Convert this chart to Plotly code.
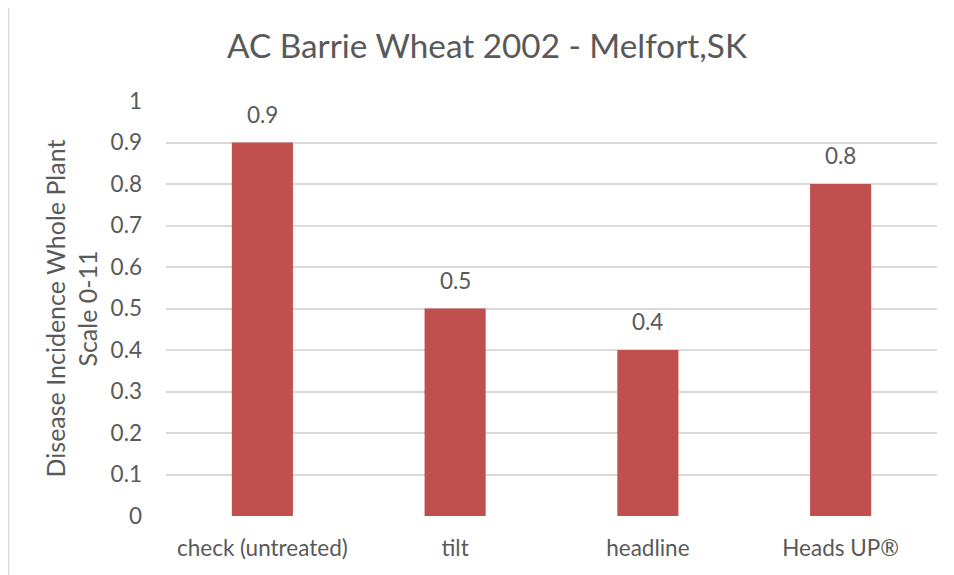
import plotly.graph_objects as go

categories = ["check (untreated)", "tilt", "headline", "Heads UP®"]
values = [0.9, 0.5, 0.4, 0.8]
value_labels = ["0.9", "0.5", "0.4", "0.8"]
y_ticks = [0, 0.1, 0.2, 0.3, 0.4, 0.5, 0.6, 0.7, 0.8, 0.9, 1]
y_tick_labels = ["0", "0.1", "0.2", "0.3", "0.4", "0.5", "0.6", "0.7", "0.8", "0.9", "1"]

FONT = "Lato"
GREY = "#595959"

fig = go.Figure(
    go.Bar(
        x=categories,
        y=values,
        marker=dict(color="#C0504D", line=dict(width=0)),
        width=0.317,
        hoverinfo="skip",
    )
)

for c, v, t in zip(categories, values, value_labels):
    fig.add_annotation(x=c, y=v, text=t, showarrow=False, xref="x", yref="y",
                       yanchor="bottom", yshift=13,
                       font=dict(family=FONT, size=22.5, color=GREY))

# page has an 8px body margin, so the figure starts at page (8, 8)
OFF = 8
W, H = 954 - OFF, 575 - OFF
L, T = 166 - OFF, 101 - OFF
R = W - (937 - OFF)
B = H - (516 - OFF)
pw = W - L - R
ph = H - T - B

fig.update_layout(
    width=W,
    height=H,
    margin=dict(l=L, r=R, t=T, b=B, pad=0, autoexpand=False),
    paper_bgcolor="white",
    plot_bgcolor="white",
    showlegend=False,
    title=dict(
        text="AC Barrie Wheat 2002 - Melfort,SK",
        font=dict(family=FONT, size=33.3, color=GREY),
        x=(487 - OFF) / W,
        xanchor="center",
        y=1 - (46 - OFF) / H,
        yanchor="middle",
    ),
    xaxis=dict(
        showgrid=False,
        showline=False,
        ticks="",
        automargin=False,
        tickfont=dict(family=FONT, size=22.5, color=GREY),
        ticklabelstandoff=16,
    ),
    yaxis=dict(
        range=[0, 1],
        tickvals=y_ticks,
        ticktext=y_tick_labels,
        showgrid=True,
        gridcolor="#D9D9D9",
        gridwidth=1.5,
        zeroline=False,
        showline=False,
        ticks="",
        automargin=False,
        tickfont=dict(family=FONT, size=22.5, color=GREY),
        ticklabelstandoff=23,
        title=dict(
            text="Disease Incidence Whole Plant<br>Scale 0-11",
            font=dict(family=FONT, size=25, color=GREY),
            standoff=5,
        ),
    ),
    bargap=0.68,
)

# left frame line of the chart box
fig.add_shape(type="line", xref="paper", yref="paper",
              x0=(0.5 - L) / pw, x1=(0.5 - L) / pw, y0=(H - B) / ph, y1=-B / ph,
              line=dict(color="#D9D9D9", width=1.5))

fig.write_html("out.html")
